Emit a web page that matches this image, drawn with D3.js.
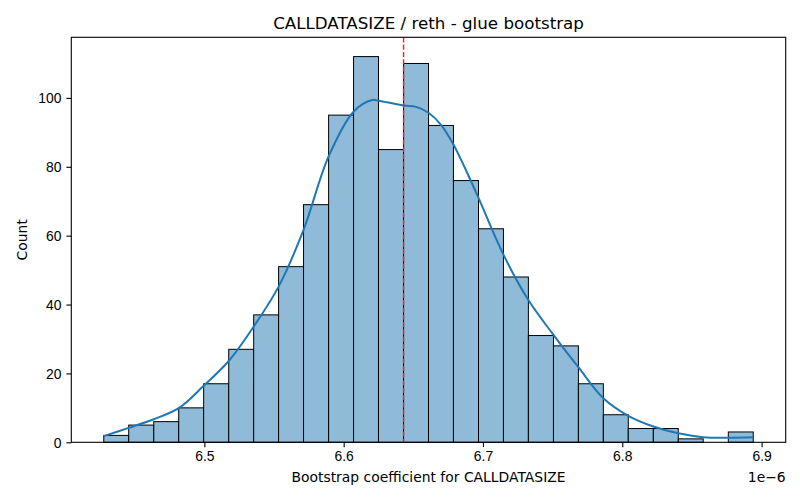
<!DOCTYPE html>
<html lang="en">
<head>
  <meta charset="UTF-8">
  <title>CALLDATASIZE / reth - glue bootstrap</title>
  <script src="https://d3js.org/d3.v7.min.js"></script>
  <style>
    body {
      margin: 0;
      padding: 0;
      background: white;
    }
    svg {
      font-family: 'DejaVu Sans', sans-serif;
      display: block;
    }
    .bar {
      fill: #8fbbd9;
      stroke: black;
      stroke-width: 1px;
    }
    .kde {
      fill: none;
      stroke: #1f77b4;
      stroke-width: 2px;
    }
    .tick text {
      font-size: 13.9px;
      fill: black;
    }
    .tick line {
      stroke: black;
      stroke-width: 1.1px;
    }
  </style>
</head>
<body>
  <svg id="chart"></svg>

  <script>
    // bootstrap coefficients, in units of 1e-6
    const binEdges = [6.4278, 6.4457, 6.4637, 6.4816, 6.4995, 6.5175, 6.5354, 6.5533, 6.5712,
      6.5892, 6.6071, 6.6250, 6.6430, 6.6609, 6.6788, 6.6968, 6.7147, 6.7326, 6.7506,
      6.7685, 6.7864, 6.8043, 6.8223, 6.8402, 6.8581, 6.8761, 6.8940];
    const counts = [2, 5, 6, 10, 17, 27, 37, 51, 69, 95, 112, 85, 110, 92, 76, 62, 48, 31, 28,
      17, 8, 4, 4, 1, 0, 3];

    // kde curve (x in 1e-6, y in counts)
    const kdeX = [6.4278, 6.4457, 6.4637, 6.4816, 6.4995, 6.5175, 6.5354, 6.5533, 6.5712,
      6.5892, 6.6071, 6.6205, 6.6250, 6.6430, 6.6520, 6.6609, 6.6699, 6.6788, 6.6878,
      6.6968, 6.7147, 6.7326, 6.7506, 6.7685, 6.7864, 6.8043, 6.8223, 6.8402, 6.8581,
      6.8761, 6.8940];
    const kdeY = [1.8, 4.2, 6.7, 9.9, 16.4, 23.6, 33.6, 45.2, 61.7,
      83.0, 96.0, 99.4, 99.2, 97.8, 97.4, 95.7, 92.2, 86.5, 79.0,
      71.0, 54.5, 41.3, 31.2, 21.8, 12.8, 7.7, 4.6, 2.6, 1.5,
      1.35, 1.45];

    const meanValue = 6.643;

    const xTicks = [6.5, 6.6, 6.7, 6.8, 6.9];
    const yTicks = [0, 20, 40, 60, 80, 100];

    const titleText = "CALLDATASIZE / reth - glue bootstrap";
    const xLabel = "Bootstrap coefficient for CALLDATASIZE";
    const yLabel = "Count";
    const offsetText = "1e\u22126";

    const W = 800, H = 500;
    const margin = { top: 37.3, right: 14.3, bottom: 57.7, left: 71.3 };
    const width = W - margin.left - margin.right;
    const height = H - margin.top - margin.bottom;

    const svg = d3.select("#chart")
      .attr("width", W)
      .attr("height", H);

    const g = svg.append("g")
      .attr("transform", `translate(${margin.left},${margin.top})`);

    // matplotlib-style 5% padding around the data range
    const lo = binEdges[0], hi = binEdges[binEdges.length - 1];
    const pad = (hi - lo) * 0.05;
    const x = d3.scaleLinear()
      .domain([lo - pad, hi + pad])
      .range([0, width]);

    const y = d3.scaleLinear()
      .domain([0, d3.max(counts) * 1.05])
      .range([height, 0]);

    const bins = counts.map((c, i) => ({ x0: binEdges[i], x1: binEdges[i + 1], n: c }));

    g.selectAll(".bar")
      .data(bins.filter(d => d.n > 0))
      .enter().append("rect")
      .attr("class", "bar")
      .attr("x", d => x(d.x0))
      .attr("y", d => y(d.n))
      .attr("width", d => x(d.x1) - x(d.x0))
      .attr("height", d => y(0) - y(d.n));

    const line = d3.line()
      .x((d, i) => x(kdeX[i]))
      .y(d => y(d))
      .curve(d3.curveCatmullRom.alpha(0.5));

    g.append("path")
      .datum(kdeY)
      .attr("class", "kde")
      .attr("d", line);

    g.append("line")
      .attr("x1", x(meanValue))
      .attr("x2", x(meanValue))
      .attr("y1", 0)
      .attr("y2", height)
      .attr("stroke", "#ff1a1a")
      .attr("stroke-width", 1.4)
      .attr("stroke-dasharray", "5.1,2.2");

    // axes
    const xAxis = g.append("g")
      .attr("transform", `translate(0,${height})`)
      .call(d3.axisBottom(x)
        .tickValues(xTicks)
        .tickFormat(d3.format(".1f"))
        .tickSize(4.9)
        .tickPadding(4.3));
    xAxis.select(".domain").remove();

    const yAxis = g.append("g")
      .call(d3.axisLeft(y)
        .tickValues(yTicks)
        .tickFormat(d3.format("d"))
        .tickSize(4.9)
        .tickPadding(4.9));
    yAxis.select(".domain").remove();
    yAxis.selectAll(".tick text").attr("dy", "0.35em");

    // spines
    g.append("rect")
      .attr("x", 0)
      .attr("y", 0)
      .attr("width", width)
      .attr("height", height)
      .attr("fill", "none")
      .attr("stroke", "black")
      .attr("stroke-width", 1.1);

    svg.append("text")
      .attr("x", margin.left + width / 2)
      .attr("y", 28.5)
      .attr("text-anchor", "middle")
      .style("font-size", "16.7px")
      .text(titleText);

    svg.append("text")
      .attr("x", margin.left + width / 2)
      .attr("y", 481.5)
      .attr("text-anchor", "middle")
      .style("font-size", "13.9px")
      .text(xLabel);

    svg.append("text")
      .attr("x", margin.left + width)
      .attr("y", 481.5)
      .attr("text-anchor", "end")
      .style("font-size", "13.9px")
      .text(offsetText);

    svg.append("text")
      .attr("transform", `translate(26.5,${margin.top + height / 2}) rotate(-90)`)
      .attr("text-anchor", "middle")
      .style("font-size", "13.9px")
      .text(yLabel);
  </script>
</body>
</html>
